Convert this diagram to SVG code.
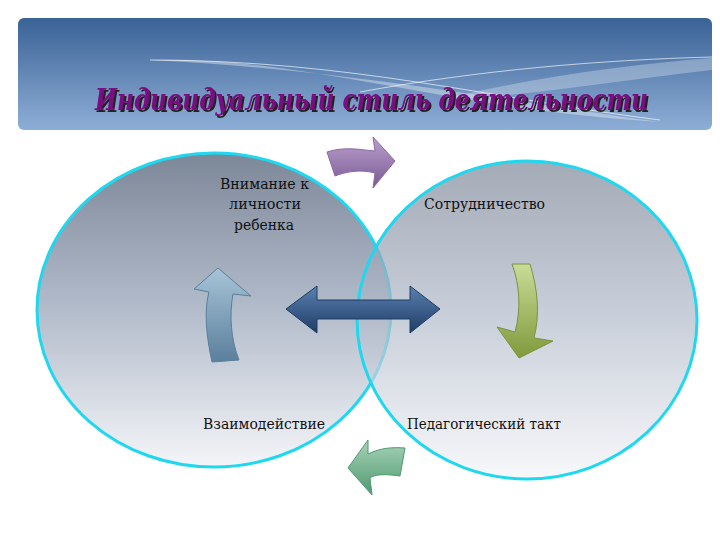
<svg xmlns="http://www.w3.org/2000/svg" width="720" height="540" viewBox="0 0 720 540">
<defs>
<linearGradient id="hdr" x1="0" y1="0" x2="0" y2="1"><stop offset="0" stop-color="#3a6296"/><stop offset="1" stop-color="#8eaed6"/></linearGradient>
<linearGradient id="circ" x1="0" y1="0" x2="0" y2="1"><stop offset="0" stop-color="#7c8798"/><stop offset="0.5" stop-color="#b3bccb"/><stop offset="1" stop-color="#f4f5f8"/></linearGradient>
<linearGradient id="pur" x1="0" y1="0" x2="0" y2="1"><stop offset="0" stop-color="#b9a0cc"/><stop offset="1" stop-color="#7a5a94"/></linearGradient>
<linearGradient id="grn" x1="0" y1="0" x2="0" y2="1"><stop offset="0" stop-color="#c8dc98"/><stop offset="1" stop-color="#809a3c"/></linearGradient>
<linearGradient id="tea" x1="0" y1="0" x2="0" y2="1"><stop offset="0" stop-color="#a8d2b8"/><stop offset="1" stop-color="#4e9a70"/></linearGradient>
<linearGradient id="blu" x1="0" y1="0" x2="0" y2="1"><stop offset="0" stop-color="#a8c4d8"/><stop offset="1" stop-color="#5a7f9c"/></linearGradient>
<linearGradient id="dbl" x1="0" y1="0" x2="0" y2="1"><stop offset="0" stop-color="#5a80b0"/><stop offset="1" stop-color="#1f3d66"/></linearGradient>
<filter id="sh" filterUnits="userSpaceOnUse" x="80" y="70" width="600" height="60"><feDropShadow dx="2" dy="2" stdDeviation="0.3" flood-color="#222"/></filter>
<style>
.arr{stroke-width:1;stroke-linejoin:round}
</style>
</defs>
<rect width="720" height="540" fill="#fff"/>
<g id="header">
<rect x="18" y="18" width="694" height="112" rx="6" fill="url(#hdr)"/>
<path d="M150 60 C300 55 450 110 660 122 C500 100 350 70 150 60Z" fill="#dfe8f2" opacity="0.45"/>
<path d="M440 100 C520 80 620 65 712 58 L712 70 C620 80 540 95 440 100Z" fill="#dfe8f2" opacity="0.35"/>
<path d="M150 60 C350 60 500 100 660 120" fill="none" stroke="#fff" stroke-width="0.8" opacity="0.8"/>
<path d="M360 92 C480 70 600 60 712 57" fill="none" stroke="#fff" stroke-width="0.8" opacity="0.8"/>
<text x="95" y="110" font-family="'DejaVu Serif','Liberation Serif',serif" font-size="29" font-weight="bold" font-style="italic" fill="#7a0a80" textLength="553" lengthAdjust="spacingAndGlyphs" filter="url(#sh)">Индивидуальный стиль деятельности</text>
</g>
<g id="circle-left"><ellipse cx="214" cy="310" rx="177" ry="157" fill="url(#circ)" stroke="#1ed8f0" stroke-width="3"/></g>
<g id="circle-right"><ellipse cx="527" cy="320" rx="170" ry="159" fill="url(#circ)" fill-opacity="0.7" stroke="#1ed8f0" stroke-width="3"/></g>
<g id="labels" font-family="'DejaVu Serif','Liberation Serif',serif" font-size="14" fill="#111">
<text x="220" y="189" textLength="89" lengthAdjust="spacingAndGlyphs">Внимание к</text>
<text x="229" y="209" textLength="72" lengthAdjust="spacingAndGlyphs">личности</text>
<text x="234" y="230" textLength="60" lengthAdjust="spacingAndGlyphs">ребенка</text>
<text x="424" y="209" textLength="121" lengthAdjust="spacingAndGlyphs">Сотрудничество</text>
<text x="203" y="429" textLength="122" lengthAdjust="spacingAndGlyphs">Взаимодействие</text>
<text x="407" y="429" textLength="154" lengthAdjust="spacingAndGlyphs">Педагогический такт</text>
</g>
<g id="connectors">
<path class="arr" d="M327 152 C345 146 362 150 375 151 L373 137 L395 161 L373 188 L375 173 C360 169 345 172 335 176 Z" fill="url(#pur)" stroke="#8a6aa8"/>
<path class="arr" d="M512 264 L530 264 C538 290 540 315 534 338 L553 341 L519 358 L497 327 L515 332 C521 310 520 285 512 264 Z" fill="url(#grn)" stroke="#7a9440"/>
<path class="arr" d="M405 448 L400 476 C385 474 375 474 370 478 L372 495 L348 468 L368 440 L368 454 C380 448 392 447 405 448 Z" fill="url(#tea)" stroke="#4e9a70"/>
<path class="arr" d="M212 362 C206 335 204 310 209 292 L194 289 L218 268 L251 296 L233 294 C229 315 231 340 239 360 Z" fill="url(#blu)" stroke="#5a7f9c"/>
<path class="arr" d="M286 309 L317 286 L317 300 L410 300 L410 286 L440 309 L410 333 L410 319 L317 319 L317 333 Z" fill="url(#dbl)" stroke="#1f3d66"/>
</g>
</svg>
